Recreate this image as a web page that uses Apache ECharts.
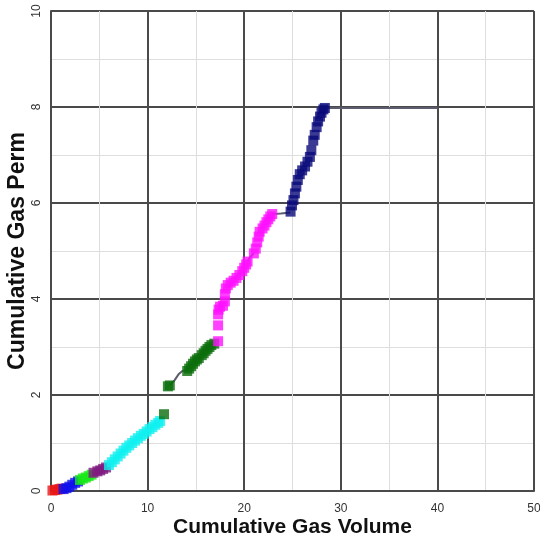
<!DOCTYPE html>
<html>
<head>
<meta charset="utf-8">
<script src="https://cdn.jsdelivr.net/npm/echarts@6/dist/echarts.min.js"></script>
<style>
  html, body { margin: 0; padding: 0; background: #ffffff; }
  #chart { width: 540px; height: 544px; }
</style>
</head>
<body>
<div id="chart"></div>
<script>
// Cumulative gas perm vs cumulative gas volume, one coloured run per zone
const xTicks = [0, 10, 20, 30, 40, 50];
const yTicks = [0, 2, 4, 6, 8, 10];

const redPts = [[0.15, 0.01], [0.4, 0.02], [0.65, 0.03], [0.9, 0.04], [1.1, 0.05]];
const bluePts = [[1.3, 0.04], [1.6, 0.06], [1.9, 0.09], [2.2, 0.13], [2.5, 0.17], [2.8, 0.2]];
const greenPts = [[3.0, 0.23], [3.3, 0.26], [3.6, 0.28], [3.9, 0.31], [4.2, 0.34]];
const purplePts = [[4.4, 0.38], [4.8, 0.41], [5.1, 0.43], [5.4, 0.46], [5.7, 0.49]];
const cyanPts = [
  [6.0, 0.54], [6.3, 0.6], [6.6, 0.66], [6.9, 0.72], [7.2, 0.78], [7.5, 0.84],
  [7.8, 0.9], [8.1, 0.95], [8.4, 1.0], [8.7, 1.05], [9.0, 1.1], [9.3, 1.15],
  [9.6, 1.19], [9.9, 1.24], [10.2, 1.29], [10.5, 1.33], [10.8, 1.38], [11.1, 1.42], [11.3, 1.46]
];
const darkGreenPts = [
  [11.7, 1.6], [12.1, 2.18], [12.3, 2.2],
  [14.1, 2.5], [14.3, 2.55], [14.5, 2.6], [14.7, 2.65], [14.9, 2.7], [15.1, 2.74], [15.3, 2.77],
  [15.6, 2.83], [15.8, 2.87], [16.0, 2.92], [16.2, 2.96], [16.4, 3.0], [16.6, 3.04], [16.9, 3.07]
];
const magentaPts = [
  [17.3, 3.12], [17.3, 3.45], [17.3, 3.68], [17.35, 3.78], [17.5, 3.84], [17.8, 3.86],
  [18.0, 3.95], [18.0, 4.1], [18.1, 4.22], [18.3, 4.29], [18.6, 4.34], [18.9, 4.38],
  [19.2, 4.44], [19.5, 4.5], [19.8, 4.58], [20.0, 4.65], [20.2, 4.72], [20.35, 4.78],
  [21.0, 4.95], [21.2, 5.05], [21.35, 5.18], [21.5, 5.3], [21.6, 5.4], [21.9, 5.47],
  [22.1, 5.53], [22.3, 5.6], [22.5, 5.66], [22.7, 5.72], [22.9, 5.77]
];
const navyPts = [
  [24.8, 5.82], [24.95, 5.95], [25.1, 6.06], [25.25, 6.2], [25.4, 6.34], [25.55, 6.48],
  [25.75, 6.6], [26.0, 6.68], [26.3, 6.76], [26.55, 6.86], [26.8, 6.96], [26.95, 7.1],
  [27.15, 7.3], [27.3, 7.42], [27.5, 7.58], [27.65, 7.7], [27.85, 7.8], [28.0, 7.88],
  [28.2, 7.95], [28.35, 7.98]
];

// thin grey connectors between runs
const linkA = [[12.3, 2.2], [12.8, 2.31], [13.2, 2.43], [13.6, 2.5], [14.1, 2.52]];
const linkB = [[20.35, 4.78], [20.6, 4.87], [21.0, 4.95]];
const linkC = [[22.9, 5.77], [23.8, 5.78], [24.8, 5.8]];
const linkD = [[28.35, 7.98], [40, 7.98]];

const runs = [
  { data: redPts, color: '#e81818' },
  { data: bluePts, color: '#1010ee' },
  { data: greenPts, color: '#18e818' },
  { data: purplePts, color: '#801a80' },
  { data: cyanPts, color: '#10f0f0' },
  { data: darkGreenPts, color: '#0b6e0b' },
  { data: magentaPts, color: '#ff10ff' },
  { data: navyPts, color: '#0a0a7a' }
];
const links = [linkA, linkB, linkC, linkD];

const chart = echarts.init(document.getElementById('chart'), null, { renderer: 'canvas' });

const series = [];
links.forEach(function (pts) {
  series.push({
    type: 'line',
    data: pts,
    showSymbol: false,
    symbol: 'none',
    lineStyle: { color: '#5c5c6e', width: 2 },
    z: 2,
    silent: true
  });
});
runs.forEach(function (r) {
  series.push({
    type: 'scatter',
    data: r.data,
    symbol: 'rect',
    symbolSize: 10,
    itemStyle: { color: r.color },
    z: 3
  });
});

const majorLine = { show: true, lineStyle: { color: '#4a4a4a', width: 2 } };
const minorLine = { show: true, lineStyle: { color: '#dedede', width: 1 } };

chart.setOption({
  animation: false,
  backgroundColor: '#ffffff',
  grid: { left: 51, right: 6, top: 11, bottom: 53, containLabel: false, outerBoundsMode: 'none' },
  xAxis: {
    type: 'value',
    min: xTicks[0],
    max: xTicks[xTicks.length - 1],
    interval: xTicks[1] - xTicks[0],
    name: 'Cumulative Gas Volume',
    nameLocation: 'middle',
    nameGap: 26,
    nameMoveOverlap: false,
    nameTextStyle: { fontFamily: 'Liberation Sans', fontWeight: 'bold', fontSize: 21, color: '#111' },
    axisLine: { show: true, onZero: false, lineStyle: { color: '#4a4a4a', width: 2 } },
    axisTick: { show: false },
    axisLabel: { margin: 12, fontFamily: 'Liberation Sans', fontSize: 12, color: '#333' },
    splitLine: majorLine,
    minorTick: { show: false, splitNumber: 2 },
    minorSplitLine: minorLine
  },
  yAxis: {
    type: 'value',
    min: yTicks[0],
    max: yTicks[yTicks.length - 1],
    interval: yTicks[1] - yTicks[0],
    name: 'Cumulative Gas Perm',
    nameLocation: 'middle',
    nameGap: 22,
    nameRotate: 90,
    nameMoveOverlap: false,
    nameTextStyle: { fontFamily: 'Liberation Sans', fontWeight: 'bold', fontSize: 23, color: '#111' },
    axisLine: { show: true, onZero: false, lineStyle: { color: '#4a4a4a', width: 2 } },
    axisTick: { show: false },
    axisLabel: { rotate: 90, margin: 8, fontFamily: 'Liberation Sans', fontSize: 12, color: '#333' },
    splitLine: majorLine,
    minorTick: { show: false, splitNumber: 2 },
    minorSplitLine: minorLine
  },
  series: series
});
</script>
</body>
</html>
